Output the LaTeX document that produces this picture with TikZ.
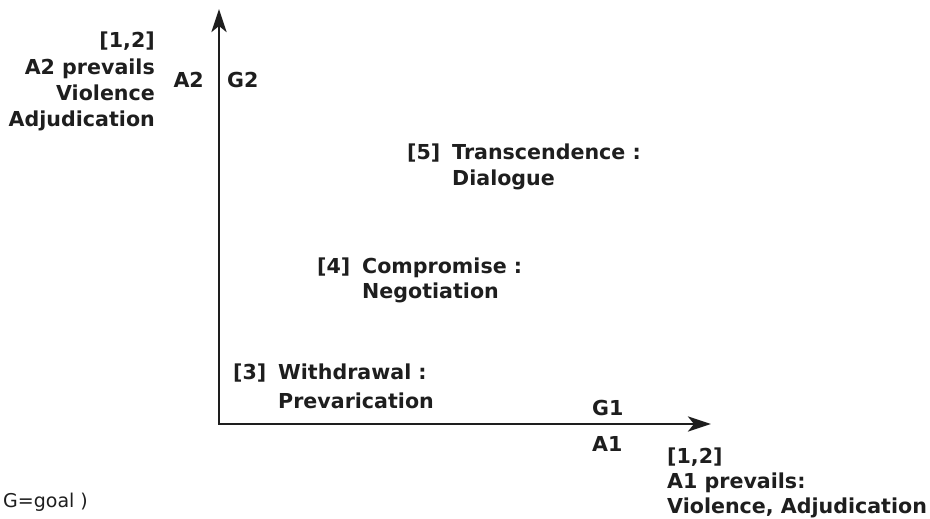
\documentclass[tikz,border=0pt]{standalone}
\usepackage{fontspec}
\setmainfont{DejaVu Sans}
\usetikzlibrary{arrows.meta}
\definecolor{ink}{HTML}{1E1E1E}
\begin{document}
\begin{tikzpicture}[x=1pt,y=-1pt,
  lbl/.style={inner sep=0pt,text=ink,font=\bfseries\fontsize{20.6}{25}\selectfont},
  note/.style={inner sep=0pt,text=ink,font=\fontsize{19}{23}\selectfont},
  axis/.style={draw=ink,line width=2.9pt,
    {Stealth[length=23pt,width=15pt,inset=6pt]}-{Stealth[length=23pt,width=15pt,inset=6pt]}}]
\useasboundingbox (0,0) rectangle (930,519);

% axes
\coordinate (O) at (219,424);
\coordinate (ytip) at (219,9);
\coordinate (xtip) at (711,424);
\draw[axis] (ytip) -- (O) -- (xtip);

% vertical axis labels
\node[lbl,anchor=base east] (y1) at (155,48) {[1,2]};
\node[lbl,anchor=base east] (y2) at (155,75) {A2 prevails};
\node[lbl,anchor=base east] (y3) at (155,101) {Violence};
\node[lbl,anchor=base east] (y4) at (155,127) {Adjudication};
\node[lbl,anchor=base east] (a2) at (204,88) {A2};
\node[lbl,anchor=base west] (g2) at (227,88) {G2};

% outcomes
\node[lbl,anchor=base west] (t5) at (407,160) {[5]};
\node[lbl,anchor=base west] (t5a) at (452,160) {Transcendence :};
\node[lbl,anchor=base west] (t5b) at (452,185) {Dialogue};

\node[lbl,anchor=base west] (t4) at (317,273) {[4]};
\node[lbl,anchor=base west] (t4a) at (362,273) {Compromise :};
\node[lbl,anchor=base west] (t4b) at (362,298) {Negotiation};

\node[lbl,anchor=base west] (t3) at (233,379) {[3]};
\node[lbl,anchor=base west] (t3a) at (278,379) {Withdrawal :};
\node[lbl,anchor=base west] (t3b) at (278,408) {Prevarication};

% horizontal axis labels
\node[lbl,anchor=base west] (g1) at (592,415) {G1};
\node[lbl,anchor=base west] (a1) at (592,451) {A1};
\node[lbl,anchor=base west] (x1) at (667,463) {[1,2]};
\node[lbl,anchor=base west] (x2) at (667,488) {A1 prevails:};
\node[lbl,anchor=base west] (x3) at (667,513) {Violence, Adjudication};

\node[note,anchor=base west] (key) at (3,507) {G=goal )};
\end{tikzpicture}
\end{document}
